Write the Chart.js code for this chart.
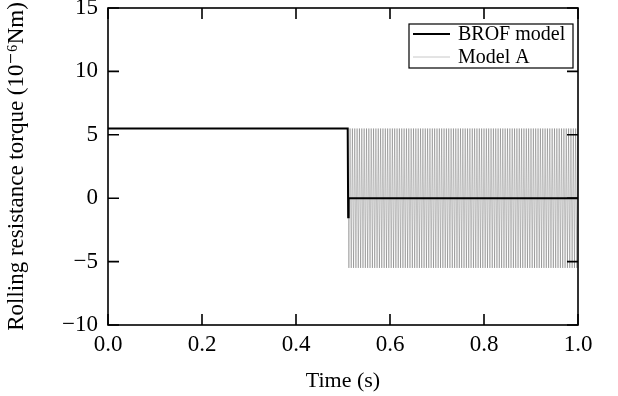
<!DOCTYPE html>
<html lang="en">
<head>
    <meta charset="UTF-8">
    <title>Rolling resistance torque</title>
    <style>
        html, body {
            margin: 0;
            padding: 0;
            background: #fff;
        }

        #box {
            width: 618px;
            height: 396px;
            position: relative;
        }
    </style>
</head>
<body>
    <div id="box"><canvas id="torqueChart"></canvas></div>
    <script src="https://cdn.jsdelivr.net/npm/chart.js"></script>
    <script>
        // BROF model: flat, drops at ~0.51 s, short undershoot, then zero
        const brofTime = [0, 0.51, 0.511, 0.512, 1.0];
        const brofTorque = [5.5, 5.5, -1.5, 0, 0];

        // Model A: same flat part, then chatters between +5.5 and -5.5 every sample
        const modelATime = [
            0,
            0.5100, 0.5125, 0.5150, 0.5175, 0.5200, 0.5225, 0.5250, 0.5275, 0.5300, 0.5325,
            0.5350, 0.5375, 0.5400, 0.5425, 0.5450, 0.5475, 0.5500, 0.5525, 0.5550, 0.5575,
            0.5600, 0.5625, 0.5650, 0.5675, 0.5700, 0.5725, 0.5750, 0.5775, 0.5800, 0.5825,
            0.5850, 0.5875, 0.5900, 0.5925, 0.5950, 0.5975, 0.6000, 0.6025, 0.6050, 0.6075,
            0.6100, 0.6125, 0.6150, 0.6175, 0.6200, 0.6225, 0.6250, 0.6275, 0.6300, 0.6325,
            0.6350, 0.6375, 0.6400, 0.6425, 0.6450, 0.6475, 0.6500, 0.6525, 0.6550, 0.6575,
            0.6600, 0.6625, 0.6650, 0.6675, 0.6700, 0.6725, 0.6750, 0.6775, 0.6800, 0.6825,
            0.6850, 0.6875, 0.6900, 0.6925, 0.6950, 0.6975, 0.7000, 0.7025, 0.7050, 0.7075,
            0.7100, 0.7125, 0.7150, 0.7175, 0.7200, 0.7225, 0.7250, 0.7275, 0.7300, 0.7325,
            0.7350, 0.7375, 0.7400, 0.7425, 0.7450, 0.7475, 0.7500, 0.7525, 0.7550, 0.7575,
            0.7600, 0.7625, 0.7650, 0.7675, 0.7700, 0.7725, 0.7750, 0.7775, 0.7800, 0.7825,
            0.7850, 0.7875, 0.7900, 0.7925, 0.7950, 0.7975, 0.8000, 0.8025, 0.8050, 0.8075,
            0.8100, 0.8125, 0.8150, 0.8175, 0.8200, 0.8225, 0.8250, 0.8275, 0.8300, 0.8325,
            0.8350, 0.8375, 0.8400, 0.8425, 0.8450, 0.8475, 0.8500, 0.8525, 0.8550, 0.8575,
            0.8600, 0.8625, 0.8650, 0.8675, 0.8700, 0.8725, 0.8750, 0.8775, 0.8800, 0.8825,
            0.8850, 0.8875, 0.8900, 0.8925, 0.8950, 0.8975, 0.9000, 0.9025, 0.9050, 0.9075,
            0.9100, 0.9125, 0.9150, 0.9175, 0.9200, 0.9225, 0.9250, 0.9275, 0.9300, 0.9325,
            0.9350, 0.9375, 0.9400, 0.9425, 0.9450, 0.9475, 0.9500, 0.9525, 0.9550, 0.9575,
            0.9600, 0.9625, 0.9650, 0.9675, 0.9700, 0.9725, 0.9750, 0.9775, 0.9800, 0.9825,
            0.9850, 0.9875, 0.9900, 0.9925, 0.9950, 0.9975, 1.0000
        ];
        const modelATorque = [
            5.5,
            5.5, -5.5, 5.5, -5.5, 5.5, -5.5, 5.5, -5.5, 5.5, -5.5,
            5.5, -5.5, 5.5, -5.5, 5.5, -5.5, 5.5, -5.5, 5.5, -5.5,
            5.5, -5.5, 5.5, -5.5, 5.5, -5.5, 5.5, -5.5, 5.5, -5.5,
            5.5, -5.5, 5.5, -5.5, 5.5, -5.5, 5.5, -5.5, 5.5, -5.5,
            5.5, -5.5, 5.5, -5.5, 5.5, -5.5, 5.5, -5.5, 5.5, -5.5,
            5.5, -5.5, 5.5, -5.5, 5.5, -5.5, 5.5, -5.5, 5.5, -5.5,
            5.5, -5.5, 5.5, -5.5, 5.5, -5.5, 5.5, -5.5, 5.5, -5.5,
            5.5, -5.5, 5.5, -5.5, 5.5, -5.5, 5.5, -5.5, 5.5, -5.5,
            5.5, -5.5, 5.5, -5.5, 5.5, -5.5, 5.5, -5.5, 5.5, -5.5,
            5.5, -5.5, 5.5, -5.5, 5.5, -5.5, 5.5, -5.5, 5.5, -5.5,
            5.5, -5.5, 5.5, -5.5, 5.5, -5.5, 5.5, -5.5, 5.5, -5.5,
            5.5, -5.5, 5.5, -5.5, 5.5, -5.5, 5.5, -5.5, 5.5, -5.5,
            5.5, -5.5, 5.5, -5.5, 5.5, -5.5, 5.5, -5.5, 5.5, -5.5,
            5.5, -5.5, 5.5, -5.5, 5.5, -5.5, 5.5, -5.5, 5.5, -5.5,
            5.5, -5.5, 5.5, -5.5, 5.5, -5.5, 5.5, -5.5, 5.5, -5.5,
            5.5, -5.5, 5.5, -5.5, 5.5, -5.5, 5.5, -5.5, 5.5, -5.5,
            5.5, -5.5, 5.5, -5.5, 5.5, -5.5, 5.5, -5.5, 5.5, -5.5,
            5.5, -5.5, 5.5, -5.5, 5.5, -5.5, 5.5, -5.5, 5.5, -5.5,
            5.5, -5.5, 5.5, -5.5, 5.5, -5.5, 5.5, -5.5, 5.5, -5.5,
            5.5, -5.5, 5.5, -5.5, 5.5, -5.5, 5.5
        ];

        const seriesNames = ['BROF model', 'Model A'];
        const xTitle = 'Time (s)';
        const yTitle = 'Rolling resistance torque (10\u207B\u2076Nm)';

        const serif = "'Liberation Serif', 'DejaVu Serif', serif";

        function toPoints(xs, ys) {
            return xs.map((t, i) => ({ x: t, y: ys[i] }));
        }

        // box round the plot with ticks pointing inward on all four sides
        const framePlugin = {
            id: 'frame',
            afterDatasetsDraw(chart) {
                const { ctx, chartArea: a, scales: { x, y } } = chart;
                const len = 11;
                ctx.save();
                ctx.strokeStyle = '#000';
                ctx.lineWidth = 1.6;
                ctx.beginPath();
                x.ticks.forEach(t => {
                    const px = x.getPixelForValue(t.value);
                    ctx.moveTo(px, a.bottom);
                    ctx.lineTo(px, a.bottom - len);
                    ctx.moveTo(px, a.top);
                    ctx.lineTo(px, a.top + len);
                });
                y.ticks.forEach(t => {
                    const py = y.getPixelForValue(t.value);
                    ctx.moveTo(a.left, py);
                    ctx.lineTo(a.left + len, py);
                    ctx.moveTo(a.right, py);
                    ctx.lineTo(a.right - len, py);
                });
                ctx.stroke();
                ctx.strokeRect(a.left, a.top, a.right - a.left, a.bottom - a.top);
                ctx.restore();
            },
            afterDraw(chart) {
                // legend box in the top right corner
                const { ctx, chartArea: a } = chart;
                const w = 164, h = 44;
                const bx = a.right - 5 - w, by = a.top + 16;
                ctx.save();
                ctx.fillStyle = '#fff';
                ctx.fillRect(bx, by, w, h);
                ctx.strokeStyle = '#000';
                ctx.lineWidth = 1.2;
                ctx.strokeRect(bx, by, w, h);
                ctx.font = '20px ' + serif;
                ctx.textBaseline = 'middle';
                chart.data.datasets.forEach((ds, i) => {
                    const ly = by + 10 + i * 23;
                    ctx.strokeStyle = i === 0 ? '#000' : '#c8c8c8';
                    ctx.lineWidth = i === 0 ? 2 : 1;
                    ctx.beginPath();
                    ctx.moveTo(bx + 4, ly);
                    ctx.lineTo(bx + 41, ly);
                    ctx.stroke();
                    ctx.fillStyle = '#000';
                    ctx.fillText(ds.label, bx + 49, ly + 1);
                });
                ctx.restore();
            }
        };

        function drawChart() {
            const ctx = document.getElementById('torqueChart').getContext('2d');
            new Chart(ctx, {
                type: 'line',
                data: {
                    datasets: [{
                        label: seriesNames[0],
                        data: toPoints(brofTime, brofTorque),
                        borderColor: '#000',
                        borderWidth: 2,
                        pointRadius: 0,
                        tension: 0,
                        fill: false
                    }, {
                        label: seriesNames[1],
                        data: toPoints(modelATime, modelATorque),
                        borderColor: 'rgba(0,0,0,0.3)',
                        borderWidth: 0.8,
                        pointRadius: 0,
                        tension: 0,
                        fill: false
                    }]
                },
                options: {
                    responsive: true,
                    maintainAspectRatio: false,
                    animation: false,
                    layout: { padding: { left: 3, top: 8, right: 40, bottom: 0 } },
                    plugins: {
                        legend: { display: false },
                        tooltip: { enabled: false }
                    },
                    scales: {
                        x: {
                            type: 'linear',
                            min: 0,
                            max: 1,
                            grid: { display: false, drawTicks: false },
                            border: { display: false },
                            ticks: {
                                stepSize: 0.2,
                                padding: 6,
                                color: '#000',
                                font: { family: serif, size: 23 },
                                maxRotation: 0,
                                callback: v => v.toFixed(1)
                            },
                            title: {
                                display: true,
                                text: xTitle,
                                color: '#000',
                                font: { family: serif, size: 22 },
                                padding: { top: 4, bottom: 2 }
                            },
                            afterFit(scale) { scale.height = 71; }
                        },
                        y: {
                            min: -10,
                            max: 15,
                            // invisible tick marks just to keep the labels off the axis
                            grid: {
                                display: true,
                                drawOnChartArea: false,
                                drawTicks: true,
                                tickLength: 10,
                                color: 'rgba(0,0,0,0)'
                            },
                            border: { display: false },
                            ticks: {
                                stepSize: 5,
                                padding: 0,
                                color: '#000',
                                font: { family: serif, size: 23, lineHeight: 0.6 },
                                callback: v => (v < 0 ? '\u2212' + Math.abs(v) : String(v))
                            },
                            title: {
                                display: true,
                                text: yTitle,
                                color: '#000',
                                font: { family: serif, size: 23 },
                                padding: { top: 0, bottom: 0 }
                            },
                            afterFit(scale) { scale.width = 105; }
                        }
                    }
                },
                plugins: [framePlugin]
            });
        }

        window.onload = drawChart;
    </script>
</body>
</html>
